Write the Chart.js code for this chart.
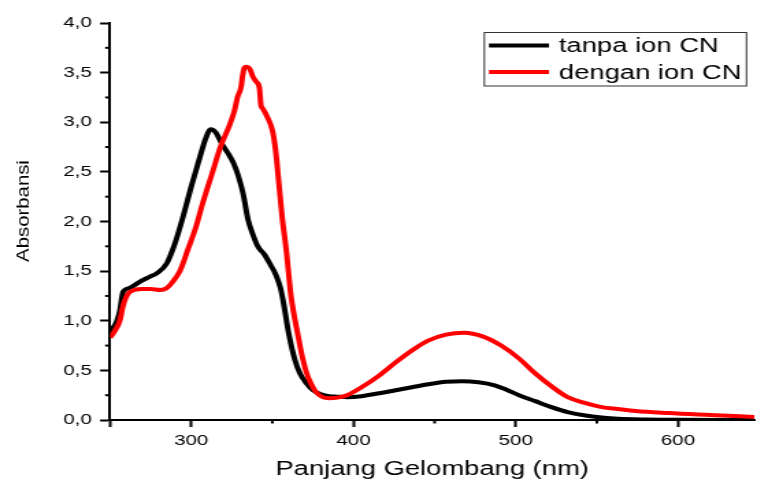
<!DOCTYPE html>
<html>
<head>
<meta charset="utf-8">
<script src="https://cdn.jsdelivr.net/npm/chart.js@4.4.0/dist/chart.umd.min.js"></script>
<style>
  html, body { margin: 0; padding: 0; background: #fff; overflow: hidden; }
  /* the reference is stretched sideways, so the chart is drawn narrow and widened */
  #wrap { width: 553px; height: 483px; transform: scaleX(1.3689); transform-origin: 0 0; }
</style>
</head>
<body>
<div id="wrap"><canvas id="myChart"></canvas></div>
<script>
// tanpa ion CN (black)
var blackNm  = [250, 254, 256, 258, 262, 268, 274, 279, 285, 290, 295, 300, 305, 309, 312, 315, 319, 323, 326, 329, 332, 335, 338, 341, 345, 349, 352, 355, 357, 360, 364, 367, 371, 375, 380, 385, 390, 396, 405, 416, 426, 436, 446, 457, 467, 477, 487, 495, 502, 512, 522, 532, 543, 553, 563, 580, 600, 647];
var blackAbs = [0.89, 0.99, 1.10, 1.29, 1.33, 1.39, 1.44, 1.48, 1.58, 1.78, 2.05, 2.35, 2.63, 2.84, 2.93, 2.90, 2.78, 2.68, 2.59, 2.46, 2.28, 2.02, 1.87, 1.75, 1.67, 1.56, 1.47, 1.33, 1.17, 0.88, 0.60, 0.47, 0.37, 0.30, 0.26, 0.24, 0.235, 0.23, 0.24, 0.27, 0.30, 0.33, 0.36, 0.385, 0.39, 0.38, 0.35, 0.30, 0.25, 0.19, 0.13, 0.08, 0.045, 0.025, 0.012, 0.005, 0.003, 0.0];

// dengan ion CN (red)
var redNm  = [250, 253, 256, 258, 261, 265, 270, 275, 281, 285, 288, 293, 298, 303, 307, 313, 318, 323.6, 326.7, 328.5, 330.8, 331.6, 332.8, 334, 336, 338, 340, 342, 343, 344, 347, 350, 352, 354, 356, 358.6, 361.5, 363.5, 365.6, 368, 371, 374, 377, 381, 385, 390, 396, 405, 416, 426, 436, 446, 457, 468, 480, 491, 502, 512, 522, 532, 543, 553, 563, 574, 594, 620, 647];
var redAbs = [0.83, 0.90, 1.00, 1.15, 1.27, 1.31, 1.32, 1.32, 1.31, 1.33, 1.38, 1.50, 1.72, 1.95, 2.18, 2.49, 2.75, 2.97, 3.12, 3.25, 3.36, 3.46, 3.55, 3.56, 3.54, 3.46, 3.41, 3.35, 3.17, 3.14, 3.05, 2.92, 2.72, 2.39, 2.05, 1.71, 1.25, 1.05, 0.87, 0.67, 0.48, 0.36, 0.28, 0.23, 0.22, 0.225, 0.25, 0.33, 0.45, 0.58, 0.70, 0.80, 0.86, 0.88, 0.84, 0.75, 0.62, 0.47, 0.34, 0.23, 0.17, 0.13, 0.11, 0.09, 0.07, 0.05, 0.03];

var seriesNames = ["tanpa ion CN", "dengan ion CN"];
var yTitle = "Absorbansi";

// tick values
var xMajor = [250, 300, 400, 500, 600];
var xMinor = [350, 450, 550];
var xLabelled = [300, 400, 500, 600];
var yMajor = [0, 0.5, 1, 1.5, 2, 2.5, 3, 3.5, 4];
var yMinor = [0.25, 0.75, 1.25, 1.75, 2.25, 2.75, 3.25, 3.75];

function pairs(xs, ys) {
    return xs.map(function (x, i) { return { x: x, y: ys[i] }; });
}

Chart.defaults.font.family = '"Liberation Sans", Arial, sans-serif';
Chart.defaults.color = '#000';

// short minor ticks, the narrow y title and the boxed legend
var extras = {
    id: 'extras',
    afterDraw: function (chart) {
        var ctx = chart.ctx;
        var xs = chart.scales.x, ys = chart.scales.y;
        var area = chart.chartArea;
        ctx.save();
        ctx.strokeStyle = '#000';
        ctx.lineWidth = 2;
        xMinor.forEach(function (v) {
            var px = xs.getPixelForValue(v);
            ctx.beginPath();
            ctx.moveTo(px, area.bottom);
            ctx.lineTo(px, area.bottom + 3.5);
            ctx.stroke();
        });
        yMinor.forEach(function (v) {
            var py = ys.getPixelForValue(v);
            ctx.beginPath();
            ctx.moveTo(area.left - 3.6, py);
            ctx.lineTo(area.left, py);
            ctx.stroke();
        });

        // y axis title, condensed like the reference
        ctx.save();
        ctx.translate(20.5, 211);
        ctx.rotate(-Math.PI / 2);
        ctx.scale(1.53, 1);
        ctx.font = '13.3px "Liberation Sans", Arial, sans-serif';
        ctx.textAlign = 'center';
        ctx.textBaseline = 'alphabetic';
        ctx.fillStyle = '#000';
        ctx.fillText(yTitle, 0, 0);
        ctx.restore();

        // legend
        ctx.lineWidth = 1;
        ctx.strokeStyle = '#333';
        ctx.strokeRect(353.8, 32.5, 191.5, 53.5);
        var colors = ['#000000', '#ff0000'];
        var rows = [45.5, 72];
        ctx.font = '20px "Liberation Sans", Arial, sans-serif';
        ctx.textBaseline = 'middle';
        ctx.fillStyle = '#000';
        for (var i = 0; i < seriesNames.length; i++) {
            ctx.strokeStyle = colors[i];
            ctx.lineWidth = 4;
            ctx.beginPath();
            ctx.moveTo(357.2, rows[i]);
            ctx.lineTo(401, rows[i]);
            ctx.stroke();
            ctx.fillText(seriesNames[i], 408.3, rows[i] + 1);
        }
        ctx.restore();
    }
};

var ctx = document.getElementById('myChart').getContext('2d');
var chart = new Chart(ctx, {
    type: 'line',
    data: {
        datasets: [{
            label: seriesNames[0],
            data: pairs(blackNm, blackAbs),
            borderColor: '#000000',
            backgroundColor: '#000000',
            borderWidth: 4,
            pointRadius: 0,
            cubicInterpolationMode: 'monotone',
            order: 1
        },
        {
            label: seriesNames[1],
            data: pairs(redNm, redAbs),
            borderColor: '#ff0000',
            backgroundColor: '#ff0000',
            borderWidth: 4,
            pointRadius: 0,
            cubicInterpolationMode: 'monotone',
            order: 0
        }]
    },
    options: {
        responsive: true,
        maintainAspectRatio: false,
        animation: false,
        events: [],
        layout: { padding: { top: 23, right: 0, bottom: 0, left: 0 } },
        plugins: {
            legend: { display: false },
            tooltip: { enabled: false }
        },
        scales: {
            x: {
                type: 'linear',
                position: 'bottom',
                min: 250,
                max: 647,
                afterBuildTicks: function (scale) {
                    scale.ticks = xMajor.map(function (v) { return { value: v }; });
                },
                afterFit: function (scale) { scale.height = 63; },
                ticks: {
                    font: { size: 15 },
                    padding: 5,
                    maxRotation: 0,
                    callback: function (v) { return xLabelled.indexOf(v) >= 0 ? String(v) : ''; }
                },
                grid: {
                    drawOnChartArea: false,
                    tickLength: 7,
                    tickWidth: 2,
                    tickColor: '#000'
                },
                border: { display: true, color: '#000', width: 2 },
                title: {
                    display: true,
                    text: 'Panjang Gelombang (nm)',
                    font: { size: 20 },
                    padding: { top: 0, bottom: 2 }
                }
            },
            y: {
                min: 0,
                max: 4,
                afterBuildTicks: function (scale) {
                    scale.ticks = yMajor.map(function (v) { return { value: v }; });
                },
                afterFit: function (scale) { scale.width = 80.4; },
                ticks: {
                    font: { size: 15 },
                    padding: 6,
                    callback: function (v) { return v.toFixed(1).replace('.', ','); }
                },
                grid: {
                    drawOnChartArea: false,
                    tickLength: 7.3,
                    tickWidth: 2,
                    tickColor: '#000'
                },
                border: { display: true, color: '#000', width: 2 }
            }
        }
    },
    plugins: [extras]
});
</script>
</body>
</html>
